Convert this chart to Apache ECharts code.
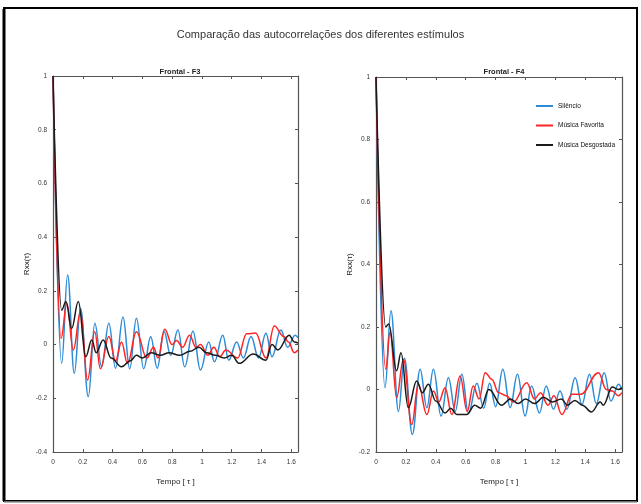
<!DOCTYPE html>
<html>
<head>
<meta charset="utf-8">
<script src="https://cdn.jsdelivr.net/npm/echarts/dist/echarts.min.js"></script>
<style>
	html, body { margin: 0; padding: 0; background: #fff; }
	#chart { width: 641px; height: 504px; }
</style>
</head>
<body>
<div id="chart"></div>
<script>
// nomes das séries (legenda)
var seriesNames = ['Silêncio', 'Música Favorita', 'Música Desgostada'];
var xTicks = [0, 0.2, 0.4, 0.6, 0.8, 1, 1.2, 1.4, 1.6];
var xMax = 1.645;

// Frontal - F3 : [tempo, Rxx]  (picos e vales)
var f3Silencio = [[0,1],[0.058,-0.07],[0.098,0.259],[0.143,-0.107],[0.185,0.135],[0.237,-0.194],[0.281,0.079],[0.326,-0.082],
	[0.375,0.079],[0.42,-0.088],[0.47,0.103],[0.515,-0.09],[0.56,0.098],[0.609,-0.09],[0.656,0.029],[0.70,-0.088],[0.745,0.05],
	[0.79,-0.04],[0.839,0.054],[0.884,-0.083],[0.94,0.05],[0.99,-0.095],[1.046,0.01],[1.084,-0.064],[1.14,0.035],[1.18,-0.058],
	[1.233,0.01],[1.278,-0.05],[1.33,0.03],[1.38,-0.05],[1.43,0.042],[1.47,-0.045],[1.53,0.054],[1.575,-0.01],[1.626,0.035],[1.645,0.025]];
var f3Favorita = [[0,1],[0.054,0.023],[0.093,0.153],[0.136,-0.02],[0.185,0.122],[0.232,-0.132],[0.28,0.048],[0.318,-0.09],
	[0.375,0.03],[0.42,-0.06],[0.46,0.01],[0.50,-0.07],[0.56,0.048],[0.63,-0.05],[0.675,-0.01],[0.705,-0.05],[0.75,0.057],[0.80,0.0],
	[0.83,0.015],[0.87,-0.01],[0.917,0.035],[0.96,-0.01],[0.99,0.0],[1.04,-0.04],[1.08,-0.01],[1.12,-0.045],[1.16,-0.02],[1.24,-0.05],
	[1.30,0.04],[1.36,0.043],[1.43,-0.05],[1.486,0.069],[1.55,0.03],[1.58,0.01],[1.62,-0.03],[1.645,-0.02]];
var f3Desgostada = [[0,1],[0.058,0.128],[0.087,0.16],[0.125,0.06],[0.17,0.16],[0.22,-0.045],[0.26,0.017],[0.29,-0.03],[0.337,0.017],
	[0.39,-0.05],[0.46,-0.083],[0.52,-0.06],[0.56,-0.04],[0.6,-0.05],[0.66,-0.03],[0.72,-0.04],[0.78,-0.03],[0.85,-0.04],[0.92,-0.025],
	[0.98,-0.01],[1.03,-0.03],[1.09,-0.04],[1.15,-0.05],[1.2,-0.04],[1.25,-0.07],[1.345,-0.035],[1.43,-0.058],[1.47,0.0],[1.51,-0.02],
	[1.586,0.035],[1.62,0.01],[1.645,0.005]];

// Frontal - F4
var f4Silencio = [[0,1],[0.06,0.006],[0.1,0.252],[0.15,-0.07],[0.19,0.10],[0.243,-0.144],[0.295,0.065],[0.34,-0.058],[0.384,0.065],
	[0.435,-0.085],[0.484,0.038],[0.53,-0.07],[0.574,0.049],[0.618,-0.075],[0.675,0.02],[0.72,-0.06],[0.76,0.02],[0.80,-0.055],
	[0.848,0.065],[0.897,-0.058],[0.946,0.049],[0.997,-0.085],[1.04,0.011],[1.093,-0.075],[1.138,0.011],[1.187,-0.063],[1.23,-0.005],
	[1.276,-0.063],[1.332,0.038],[1.377,-0.048],[1.428,0.049],[1.473,-0.045],[1.526,0.054],[1.571,-0.037],[1.622,0.017],[1.645,0.0]];
var f4Favorita = [[0,1],[0.065,0.065],[0.094,0.183],[0.138,-0.026],[0.183,0.097],[0.239,-0.112],[0.283,0.017],[0.34,-0.08],
	[0.384,-0.005],[0.42,-0.04],[0.462,0.006],[0.507,-0.08],[0.562,0.043],[0.61,-0.07],[0.65,0.011],[0.69,-0.03],[0.73,0.054],
	[0.774,0.033],[0.82,-0.01],[0.87,-0.02],[0.92,-0.04],[1.008,0.022],[1.06,-0.03],[1.1,-0.01],[1.15,-0.05],[1.19,-0.02],[1.243,-0.08],
	[1.31,-0.015],[1.37,-0.015],[1.488,0.054],[1.54,0.0],[1.58,-0.005],[1.62,-0.02],[1.645,-0.01]];
var f4Desgostada = [[0,1],[0.065,0.2],[0.085,0.21],[0.138,0.06],[0.167,0.118],[0.216,-0.058],[0.272,0.027],[0.31,-0.01],[0.35,0.017],
	[0.4,-0.037],[0.462,-0.075],[0.5,-0.06],[0.54,-0.08],[0.607,-0.08],[0.66,-0.05],[0.70,-0.06],[0.755,0.0],[0.84,-0.05],[0.9,-0.03],
	[0.95,-0.045],[1.0,-0.03],[1.06,-0.045],[1.12,-0.025],[1.18,-0.04],[1.24,-0.03],[1.28,-0.05],[1.33,-0.035],[1.38,-0.05],[1.44,-0.072],
	[1.5,-0.04],[1.52,-0.05],[1.58,0.008],[1.62,0.0],[1.645,0.005]];

var colors = ['#2b8bd6', '#ff2424', '#1a1a1a'];
var narrow = "'Liberation Sans Narrow', 'Liberation Sans', Arial, sans-serif";
var axisColor = '#555';

var myChart = echarts.init(document.getElementById('chart'));

// eixo x (baixo com rótulos / topo só com marcas)
function xAxisOf(grid, top, name) {
	return {
		type: 'value', gridIndex: grid, position: top ? 'top' : 'bottom',
		min: 0, max: xMax, interval: 0.2,
		name: top ? '' : name, nameLocation: 'middle', nameGap: 26,
		nameTextStyle: { fontFamily: narrow, fontSize: 8, color: '#222' },
		axisLine: { onZero: false, lineStyle: { color: axisColor, width: 1.2 } },
		axisTick: { inside: true, length: 3, lineStyle: { color: axisColor } },
		axisLabel: { show: !top, showMaxLabel: false, margin: 7, fontFamily: narrow, fontSize: 6.5, color: '#333' },
		splitLine: { show: false }
	};
}
// eixo y (esquerda com rótulos / direita só com marcas)
function yAxisOf(grid, right, min) {
	return {
		type: 'value', gridIndex: grid, position: right ? 'right' : 'left',
		min: min, max: 1, interval: 0.2,
		name: right ? '' : 'Rxx(τ)', nameLocation: 'middle', nameGap: 22,
		nameTextStyle: { fontFamily: narrow, fontSize: 8, color: '#222' },
		axisLine: { onZero: false, lineStyle: { color: axisColor, width: 1.2 } },
		axisTick: { inside: true, length: 3, lineStyle: { color: axisColor } },
		axisLabel: { show: !right, margin: 6, fontFamily: narrow, fontSize: 6.5, color: '#333' },
		splitLine: { show: false }
	};
}
function lineOf(name, data, idx, color) {
	return {
		name: name, type: 'line', xAxisIndex: idx, yAxisIndex: idx,
		data: data, showSymbol: false, smooth: 0.4, smoothMonotone: 'x',
		lineStyle: { color: color, width: 1.5 }, itemStyle: { color: color },
		animation: false
	};
}

var option = {
	backgroundColor: '#fff',
	title: [
		{ text: 'Comparação das autocorrelações dos diferentes estímulos', left: 'center', top: 24,
			textStyle: { fontFamily: narrow, fontSize: 11, fontWeight: 'normal', color: '#333' } },
		{ text: 'Frontal - F3', left: 175, top: 63, textAlign: 'center',
			textStyle: { fontFamily: narrow, fontSize: 7.5, fontWeight: 'bold', color: '#222' } },
		{ text: 'Frontal - F4', left: 499, top: 63, textAlign: 'center',
			textStyle: { fontFamily: narrow, fontSize: 7.5, fontWeight: 'bold', color: '#222' } }
	],
	legend: {
		orient: 'vertical', left: 536, top: 101, padding: 0,
		data: seriesNames, icon: 'rect', itemWidth: 17, itemHeight: 2, itemGap: 9.5,
		textStyle: { fontFamily: narrow, fontSize: 6.5, color: '#111', lineHeight: 10 }
	},
	grid: [
		{ left: 53, top: 76, width: 245, height: 376 },
		{ left: 376, top: 77, width: 246, height: 375 }
	],
	xAxis: [xAxisOf(0, false, 'Tempo [ τ ]'), xAxisOf(0, true), xAxisOf(1, false, 'Tempo [ τ ]'), xAxisOf(1, true)],
	yAxis: [yAxisOf(0, false, -0.4), yAxisOf(0, true, -0.4), yAxisOf(1, false, -0.2), yAxisOf(1, true, -0.2)],
	series: [
		lineOf(seriesNames[0], f3Silencio, 0, colors[0]),
		lineOf(seriesNames[1], f3Favorita, 0, colors[1]),
		lineOf(seriesNames[2], f3Desgostada, 0, colors[2]),
		lineOf(seriesNames[0], f4Silencio, 2, colors[0]),
		lineOf(seriesNames[1], f4Favorita, 2, colors[1]),
		lineOf(seriesNames[2], f4Desgostada, 2, colors[2])
	],
	// moldura da figura
	graphic: [
		{ type: 'rect', shape: { x: 4, y: 8, width: 633, height: 493 }, style: { fill: 'none', stroke: '#000', lineWidth: 2 } },
		{ type: 'line', shape: { x1: 4, y1: 9, x2: 4, y2: 501 }, style: { stroke: '#000', lineWidth: 3 } },
		{ type: 'line', shape: { x1: 4, y1: 502, x2: 637, y2: 502 }, style: { stroke: '#999', lineWidth: 1.5 } }
	]
};
myChart.setOption(option);
</script>
</body>
</html>
